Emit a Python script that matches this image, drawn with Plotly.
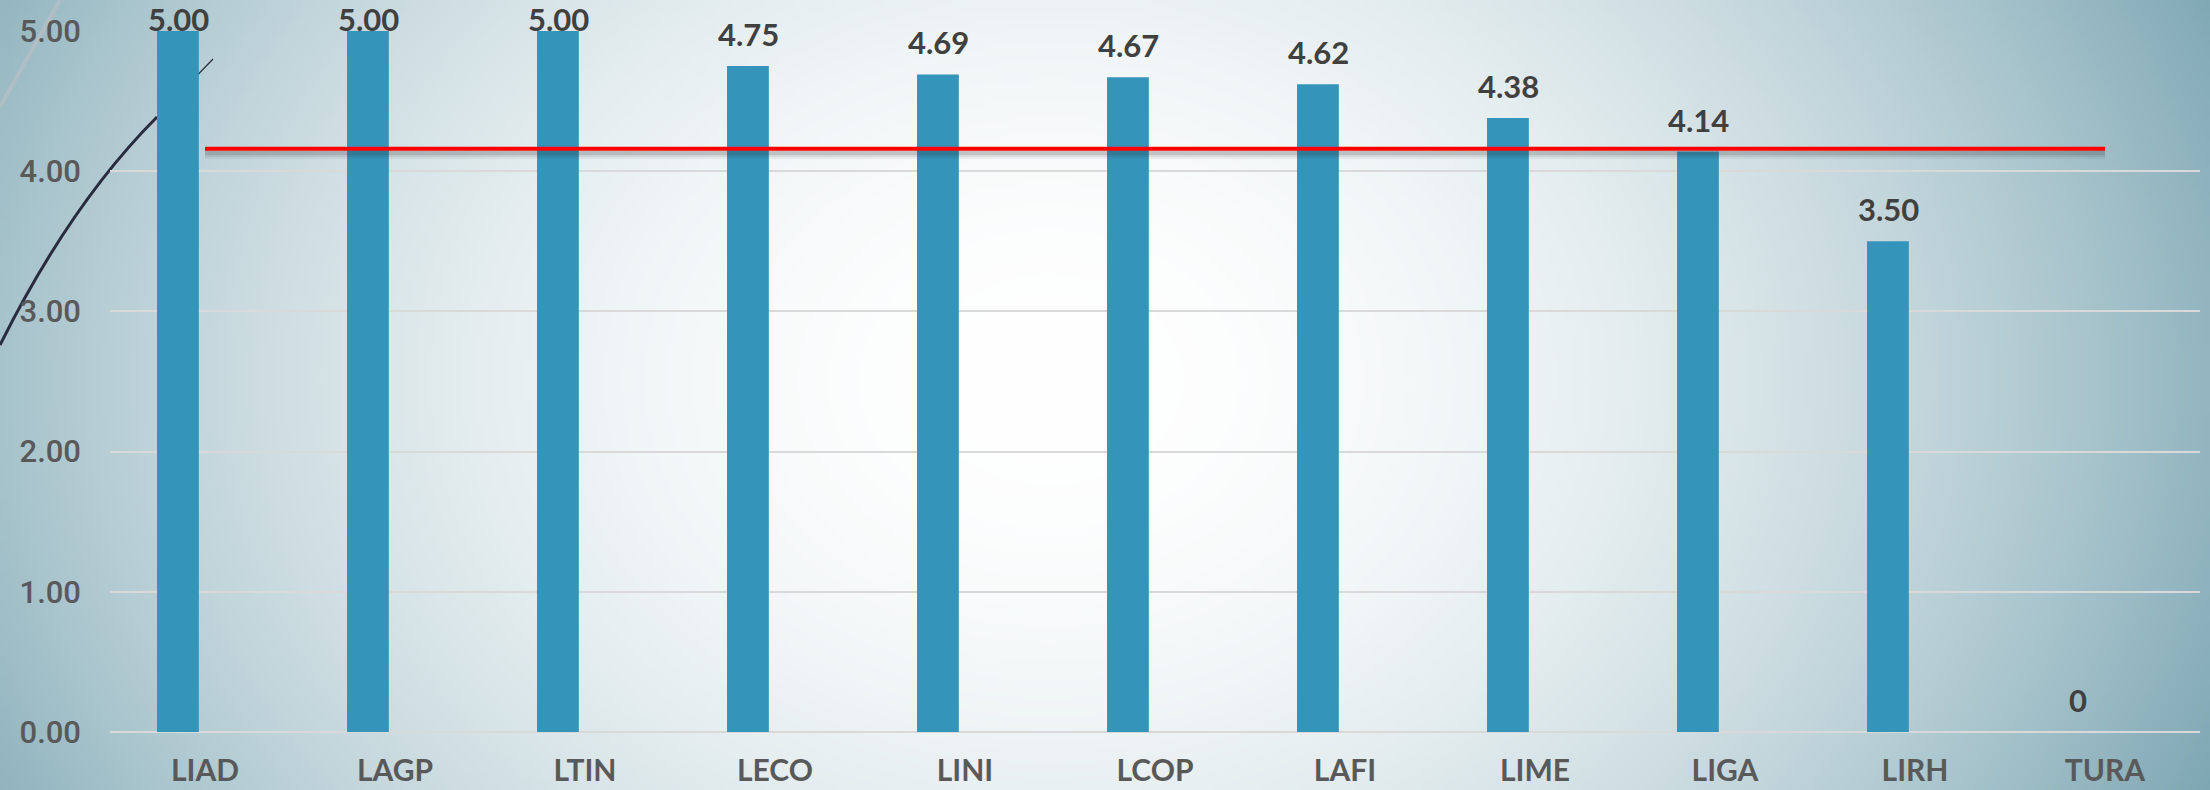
import base64
import struct
import zlib

import numpy as np
import plotly.graph_objects as go

# chart data
categories = ["LIAD", "LAGP", "LTIN", "LECO", "LINI", "LCOP", "LAFI", "LIME", "LIGA", "LIRH", "TURA"]
scores = [5.00, 5.00, 5.00, 4.75, 4.69, 4.67, 4.62, 4.38, 4.14, 3.50, 0]
target = [4.16, 4.16, 4.16, 4.16, 4.16, 4.16, 4.16, 4.16, 4.16, 4.16, 4.16]
y_ticks = [0, 1, 2, 3, 4, 5]

W, H = 2210, 790
L, R, T, B = 110, 10, 31, 58
PW, PH = W - L - R, H - T - B


def png_uri(rgb):
    """Encode an HxWx3 uint8 array as a PNG data uri (no PIL needed)."""
    h, w, _ = rgb.shape
    raw = b"".join(b"\x00" + rgb[r].tobytes() for r in range(h))

    def chunk(tag, data):
        c = struct.pack(">I", len(data)) + tag + data
        return c + struct.pack(">I", zlib.crc32(tag + data) & 0xFFFFFFFF)

    png = b"\x89PNG\r\n\x1a\n"
    png += chunk(b"IHDR", struct.pack(">IIBBBBB", w, h, 8, 2, 0, 0, 0))
    png += chunk(b"IDAT", zlib.compress(raw, 9))
    png += chunk(b"IEND", b"")
    return "data:image/png;base64," + base64.b64encode(png).decode()


# slide background: white glow in the middle fading to grey teal at the edges
gw, gh = 553, 198
gx, gy = np.meshgrid(np.linspace(0, W, gw), np.linspace(0, H, gh))
t = np.sqrt(((gx - 1050) / 1200) ** 2 + ((gy - 380) / 950) ** 2)
f = np.clip(t, 0, 1.2) ** 2.0
edge = np.array([140, 177, 188])
white = np.array([255, 255, 255])
bg = white[None, None, :] * (1 - f[..., None]) + edge[None, None, :] * f[..., None]
bg = np.clip(bg, 0, 255).astype(np.uint8)


def px(x, y):
    """pixel position on the page -> paper coords of the plot area"""
    return (x - L) / PW, (H - B - y) / PH


fig = go.Figure()

fig.add_trace(go.Bar(
    x=categories, y=scores,
    width=0.22, offset=-0.2525,
    marker=dict(color="#3494ba", line=dict(width=0)),
    hoverinfo="x+y",
))

# soft shadow under the reference line
for dy, wd, a in [(0.04, 9, 0.07), (0.035, 6, 0.10), (0.03, 4, 0.12)]:
    fig.add_trace(go.Scatter(
        x=categories, y=[v - dy for v in target], mode="lines",
        line=dict(color=f"rgba(50,50,50,{a})", width=wd),
        hoverinfo="skip",
    ))
fig.add_trace(go.Scatter(
    x=categories, y=target, mode="lines",
    line=dict(color="#ff0000", width=4),
))

# data labels above the bars
for c, v in zip(categories, scores):
    fig.add_annotation(
        x=c, y=v, xref="x", yref="y",
        text=f"{v:.2f}" if v else "0",
        showarrow=False, yanchor="bottom",
        xshift=-27, yshift=11 if v < 4.9 else -9,
        font=dict(family="Lato", size=31, color="#404040", weight="bold"),
    )

# decorative slide curves behind the chart
p0, c0, p1 = px(0, 345), px(71, 203), px(157, 117)
p2 = px(213, 59)
g0, g1 = px(0, 107), px(60, 0)
fig.add_shape(type="path", xref="paper", yref="paper", layer="below",
              path=f"M {p0[0]},{p0[1]} Q {c0[0]},{c0[1]} {p1[0]},{p1[1]}",
              line=dict(color="#2b2b40", width=3))
fig.add_shape(type="line", xref="paper", yref="paper", layer="below",
              x0=p1[0], y0=p1[1], x1=p2[0], y1=p2[1],
              line=dict(color="#2b2b40", width=1.2))
fig.add_shape(type="line", xref="paper", yref="paper", layer="below",
              x0=g0[0], y0=g0[1], x1=g1[0], y1=g1[1],
              line=dict(color="#b2bec5", width=4))

fig.add_layout_image(dict(
    source=png_uri(bg), xref="paper", yref="paper",
    x=-L / PW, y=1 + T / PH, sizex=W / PW, sizey=H / PH,
    xanchor="left", yanchor="top", sizing="stretch", layer="below",
))

fig.update_layout(
    width=W, height=H,
    margin=dict(l=L, r=R, t=T, b=B),
    paper_bgcolor="#ffffff", plot_bgcolor="rgba(0,0,0,0)",
    showlegend=False,
    xaxis=dict(
        type="category", range=[-0.5, 10.5], automargin=False,
        showgrid=False, showline=False, zeroline=False, ticks="",
        ticklabelstandoff=18,
        tickfont=dict(family="Lato", size=30, color="#595959", weight="bold"),
    ),
    yaxis=dict(
        range=[0, 5], tickvals=y_ticks, tickformat=".2f", automargin=False,
        showgrid=True, gridcolor="#d9d9d9", gridwidth=2,
        zeroline=True, zerolinecolor="#d9d9d9", zerolinewidth=2,
        showline=False, ticks="", ticklabelstandoff=28,
        tickfont=dict(family="Roboto", size=31, color="#595959", weight=500),
    ),
)

# the page's default 8px body margin would shift the whole slide
fig.write_html("out.html", config={"displayModeBar": False},
               post_script="document.body.style.margin='0';")
